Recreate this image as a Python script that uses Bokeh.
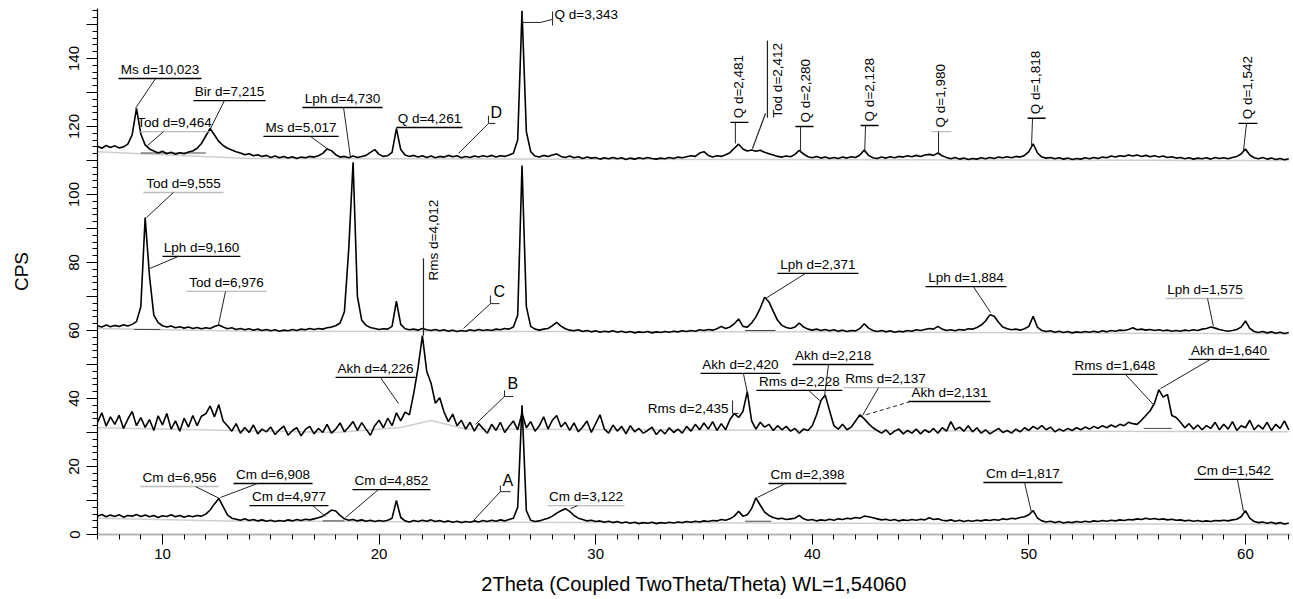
import math
from bokeh.plotting import figure
from bokeh.models import Range1d, FixedTicker
from bokeh.core.properties import value
from bokeh.embed import file_html
from bokeh.resources import INLINE

# ---------------- scan data (2Theta grid 7.0 .. 62.0, step 0.2) ----------------
SCAN_START = 7.0
SCAN_STEP = 0.2

cps_D = [
    114.2, 113.6, 114.4, 113.8, 114.3, 113.7, 114.0, 114.8, 117.5, 125.3,
    117.8, 114.6, 113.4, 112.8, 112.2, 112.7, 112.0, 112.4, 111.8, 112.3,
    112.0, 112.5, 112.8, 113.6, 115.0, 117.2, 119.4, 117.5, 115.6, 114.4,
    113.6, 113.1, 112.6, 112.2, 111.7, 112.0, 111.4, 111.7, 111.2, 111.5,
    110.9, 111.3, 110.8, 111.2, 110.7, 111.1, 110.6, 111.0, 110.8, 111.2,
    111.0, 111.4, 112.1, 113.4, 112.9, 111.7, 111.0, 111.2, 110.8, 111.3,
    110.9, 111.2, 111.5, 112.4, 113.2, 111.8, 111.2, 111.4, 112.4, 119.4,
    113.2, 111.6, 111.2, 111.5, 111.0, 111.4, 110.9, 111.3, 110.8, 111.2,
    111.0, 111.5, 111.1, 111.4, 110.8, 111.2, 110.9, 111.3, 111.0, 111.4,
    111.1, 111.5, 111.0, 111.4, 111.2, 111.6, 112.1, 116.0, 154.0, 118.5,
    112.6, 111.3, 111.0, 111.5, 111.2, 111.6, 111.9, 111.2, 110.9, 111.3,
    110.8, 111.1, 110.6, 111.0, 110.7, 110.9, 110.4, 110.8, 110.5, 110.9,
    110.5, 110.8, 110.3, 110.7, 110.4, 110.8, 110.5, 110.9, 110.6, 110.4,
    110.7, 110.5, 110.9, 110.6, 111.0, 110.8, 111.1, 111.4, 111.2, 112.2,
    112.6, 111.5, 111.0, 111.4, 111.2, 111.7, 112.3, 113.6, 114.8, 113.4,
    112.8, 113.1, 112.7, 113.0, 112.4, 112.0, 111.6, 111.2, 111.0, 111.3,
    111.1, 111.8, 113.0, 111.9, 111.1, 110.8, 111.2, 110.7, 111.0, 110.6,
    110.9, 110.6, 111.0, 110.7, 111.1, 110.9, 111.6, 113.1, 111.5, 110.8,
    110.6, 111.0, 110.7, 111.1, 110.8, 111.2, 111.0, 111.4, 111.1, 111.5,
    111.2, 111.6, 111.8, 111.5, 112.2, 111.4, 110.9, 110.5, 110.9, 110.4,
    110.7, 110.3, 110.6, 110.4, 110.8, 110.5, 110.9, 110.6, 111.0, 110.8,
    111.1, 110.8, 111.2, 111.0, 111.5, 112.6, 114.9, 112.2, 111.0, 110.7,
    110.9, 110.5, 110.8, 110.4, 110.7, 110.3, 110.6, 110.4, 110.8, 110.5,
    110.9, 110.6, 111.0, 110.8, 111.3, 111.0, 111.4, 111.2, 111.6, 111.3,
    111.6, 111.2, 111.5, 111.1, 111.4, 111.0, 111.3, 110.9, 111.1, 110.7,
    110.9, 110.5, 110.8, 110.4, 110.7, 110.5, 110.8, 110.4, 110.9, 110.6,
    110.8, 110.5, 110.9, 111.2, 111.9, 113.4, 111.6, 110.8, 110.5, 110.9,
    110.4, 110.7, 110.3, 110.6, 110.2, 110.5,
]

cps_C = [
    61.4, 61.0, 61.6, 61.1, 61.5, 61.2, 61.7, 61.3, 61.8, 62.6,
    67.0, 93.2, 76.0, 64.5, 62.3, 61.4, 61.0, 61.3, 60.8, 61.1,
    60.7, 61.0, 60.6, 60.9, 60.5, 60.8, 60.6, 61.2, 61.6, 61.0,
    60.5, 60.8, 60.3, 60.6, 60.2, 60.5, 60.1, 60.4, 60.0, 60.3,
    59.9, 60.2, 59.8, 60.1, 59.9, 60.3, 60.0, 60.4, 60.2, 60.6,
    60.3, 60.6, 60.4, 60.8, 61.0, 61.4, 62.2, 65.5, 84.0, 109.5,
    70.0, 63.0, 61.5, 60.9, 60.6, 60.3, 60.5, 60.4, 61.2, 68.6,
    61.8, 60.5, 60.2, 60.4, 60.1, 60.6, 60.2, 60.0, 60.3, 59.9,
    60.2, 59.8, 60.1, 59.7, 60.0, 59.8, 60.2, 59.9, 60.3, 60.0,
    60.2, 60.0, 60.4, 60.2, 60.6, 60.4, 61.0, 64.5, 108.5, 67.0,
    61.2, 60.4, 60.1, 60.4, 60.6, 61.4, 62.4, 61.3, 60.5, 60.1,
    59.9, 60.2, 59.7, 60.0, 59.6, 59.9, 59.5, 59.8, 59.6, 59.9,
    59.5, 59.8, 59.4, 59.7, 59.3, 59.6, 59.4, 59.7, 59.3, 59.6,
    59.4, 59.7, 59.5, 59.8, 59.6, 59.9, 59.7, 60.0, 59.8, 60.2,
    60.0, 60.3, 60.1, 60.5, 61.2, 60.6, 61.0, 62.0, 63.4, 61.2,
    61.0, 62.2, 64.0, 66.6, 69.8, 68.4, 65.6, 63.0, 61.5, 60.9,
    60.6, 61.0, 62.2, 61.0, 60.4, 60.1, 60.4, 60.0, 60.3, 59.9,
    60.2, 59.8, 60.1, 59.7, 60.0, 59.9, 60.6, 62.0, 60.7, 60.0,
    59.7, 60.0, 59.6, 59.9, 59.5, 59.8, 59.6, 60.0, 59.8, 60.2,
    60.0, 60.3, 60.6, 60.4, 61.2, 60.4, 60.0, 60.2, 59.9, 60.3,
    60.1, 60.5, 60.4, 60.9, 61.6, 62.8, 64.6, 64.2, 62.4, 61.0,
    60.5, 60.2, 60.4, 60.1, 60.5, 61.2, 64.2, 60.9, 60.0, 59.7,
    59.9, 59.5, 59.8, 59.4, 59.7, 59.3, 59.6, 59.4, 59.7, 59.5,
    59.8, 59.5, 59.9, 59.6, 60.0, 59.8, 60.1, 60.0, 60.3, 60.8,
    60.2, 60.4, 60.1, 60.3, 60.0, 60.2, 59.9, 60.1, 59.8, 60.0,
    59.8, 60.1, 59.9, 60.2, 60.0, 60.4, 60.6, 61.0, 60.7, 60.3,
    60.0, 59.8, 60.0, 60.3, 61.0, 62.8, 60.6, 59.7, 59.4, 59.7,
    59.3, 59.6, 59.2, 59.5, 59.1, 59.4,
]

cps_B = [
    33.0, 35.8, 31.9, 34.6, 32.4, 35.1, 31.2, 33.9, 36.2, 32.0,
    34.4, 31.5, 33.8, 30.6, 34.9, 32.2, 35.6, 31.0, 33.4, 30.4,
    34.2, 31.6, 35.0, 32.0, 34.8, 35.5, 37.8, 34.6, 38.2, 33.4,
    32.0, 30.4, 32.6, 29.8, 31.5, 30.0, 32.2, 29.6, 31.0, 30.2,
    31.6, 29.4, 30.8, 31.9, 29.2, 30.6, 31.4, 29.0, 30.9, 31.8,
    29.6, 31.2, 30.0, 32.4, 29.8, 31.0, 32.8, 30.2, 31.6, 33.2,
    30.6, 32.9, 31.0, 29.2, 32.0, 33.6, 31.4, 34.2, 32.0, 35.8,
    33.4, 36.0, 35.2, 41.5, 49.0, 58.5, 48.0, 44.5, 38.6, 40.2,
    36.0, 33.2, 35.4, 32.0, 33.6, 31.0, 33.0, 30.4, 32.6, 31.2,
    29.8, 32.4, 30.6, 33.0, 30.0, 31.8, 33.4, 30.8, 35.6, 31.4,
    33.2, 30.4, 32.0, 34.6, 31.0, 33.6, 35.0, 31.6, 33.0, 30.6,
    32.8, 30.2, 31.6, 33.4, 30.0, 32.6, 35.2, 31.0, 29.8, 32.2,
    30.4, 31.8, 29.6, 32.0, 30.2, 31.2, 29.8, 30.6, 31.6, 29.4,
    30.8, 29.6, 31.4, 30.0, 31.0, 29.8, 31.8, 30.4, 32.4, 30.8,
    32.8, 31.0, 33.2, 30.6, 32.6, 30.8, 33.8, 35.6, 34.4, 36.2,
    42.0, 33.4, 31.0, 33.0, 31.6, 32.4, 30.6, 32.0, 30.8, 31.8,
    30.4, 31.2, 29.8, 31.0, 30.6, 32.0, 35.2, 39.4, 41.0, 36.4,
    32.0, 31.0, 32.4, 30.8, 31.6, 33.4, 35.2, 34.0, 32.6, 31.4,
    30.6, 29.8, 30.8, 29.4, 30.4, 31.0, 29.6, 30.6, 29.8, 31.0,
    29.6, 30.8, 30.0, 31.2, 29.8, 31.4, 30.4, 33.2, 30.8, 31.6,
    30.4, 32.0, 30.2, 31.4, 29.8, 30.8, 29.6, 30.4, 31.2, 30.0,
    30.6, 29.8, 31.0, 30.2, 31.4, 30.6, 31.8, 31.0, 32.0, 30.8,
    31.6, 30.2, 31.0, 30.4, 31.2, 30.6, 31.4, 30.8, 31.6, 31.0,
    31.8, 31.2, 32.0, 31.4, 32.2, 31.6, 32.4, 32.0, 33.0, 32.6,
    32.4, 33.6, 35.0, 36.4, 38.6, 42.6, 40.4, 41.2, 35.0, 34.4,
    33.0, 31.4, 32.6, 31.0, 32.2, 30.8, 32.0, 31.2, 33.0, 30.8,
    32.4, 31.0, 33.2, 30.6, 32.0, 31.4, 33.6, 30.8, 32.2, 31.0,
    33.0, 30.6, 32.4, 31.2, 33.4, 30.8,
]

cps_A = [
    5.4, 5.9, 5.2, 5.7, 5.3, 5.8, 5.1, 5.6, 5.4, 5.9,
    5.3, 5.7, 5.2, 5.6, 5.0, 5.5, 5.3, 5.8, 5.2, 5.6,
    5.1, 5.5, 5.2, 5.6, 5.4, 6.0, 7.2, 9.0, 10.6, 8.2,
    5.8, 4.8, 4.5, 4.2, 4.6, 4.1, 4.4, 4.0, 4.3, 3.9,
    4.2, 3.8, 4.1, 3.9, 4.3, 4.0, 4.4, 4.1, 4.5, 4.3,
    4.6, 4.9, 5.4, 6.2, 7.2, 6.9, 5.6, 4.6, 4.2, 4.4,
    4.0, 4.3, 3.9, 4.2, 3.8, 4.1, 3.9, 4.2, 4.8, 10.0,
    5.0, 4.0, 3.7, 4.1, 3.8, 4.2, 3.9, 4.3, 3.8, 4.1,
    3.7, 4.0, 3.6, 3.9, 3.5, 3.8, 3.6, 4.0, 3.7, 4.1,
    3.8, 4.2, 3.9, 4.3, 4.0, 4.4, 4.8, 8.0, 38.0, 7.0,
    4.2, 3.8, 4.0, 4.4, 4.8, 5.4, 6.3, 7.0, 7.6, 6.8,
    5.6, 4.8, 4.4, 4.0, 4.2, 3.8, 4.0, 3.6, 3.9, 3.5,
    3.8, 3.4, 3.7, 3.3, 3.6, 3.2, 3.5, 3.3, 3.6, 3.2,
    3.5, 3.3, 3.6, 3.4, 3.7, 3.5, 3.8, 3.6, 3.9, 3.7,
    4.0, 3.8, 4.1, 4.0, 4.4, 4.2, 4.6, 5.4, 6.8, 5.4,
    5.8, 7.6, 10.8, 8.6, 6.6, 5.6, 5.0, 4.6, 4.8, 4.4,
    4.6, 4.8, 5.6, 4.6, 4.2, 4.4, 4.0, 4.3, 4.1, 4.5,
    4.2, 4.6, 4.4, 4.8, 4.6, 5.0, 4.8, 5.4, 5.2, 4.9,
    4.6, 4.3, 4.5, 4.1, 4.4, 4.0, 4.3, 4.1, 4.4, 4.2,
    4.5, 4.3, 4.9, 4.4, 4.6, 4.2, 4.0, 4.3, 3.9, 4.2,
    3.8, 4.1, 3.9, 4.2, 4.0, 4.3, 4.1, 4.4, 4.2, 4.6,
    4.4, 4.8, 4.6, 5.0, 5.2, 5.8, 7.0, 4.8, 4.0, 3.7,
    3.9, 3.5, 3.8, 3.4, 3.7, 3.5, 3.8, 3.6, 3.9, 3.7,
    4.0, 3.8, 4.1, 3.9, 4.2, 4.0, 4.3, 4.1, 4.4, 4.3,
    4.6, 4.4, 4.8, 4.5, 4.7, 4.4, 4.6, 4.3, 4.5, 4.2,
    4.3, 4.0, 4.2, 3.9, 4.1, 3.8, 4.0, 3.8, 4.1, 4.0,
    4.2, 4.0, 4.3, 4.5, 5.2, 7.0, 4.8, 3.8, 3.5, 3.7,
    3.3, 3.6, 3.2, 3.5, 3.1, 3.4,
]

# background curves (light grey)
bg_D_x = [7.0, 9.5, 14.0, 30.0, 62.0]
bg_D_y = [112.6, 111.8, 110.6, 110.4, 110.0]
bg_C_x = [7.0, 14.0, 40.0, 62.0]
bg_C_y = [60.6, 59.8, 59.6, 59.0]
bg_B_x = [7.0, 18.0, 21.0, 22.4, 24.0, 40.0, 62.0]
bg_B_y = [31.4, 30.0, 31.5, 33.5, 31.0, 30.6, 30.2]
bg_A_x = [7.0, 13.0, 30.0, 62.0]
bg_A_y = [4.8, 4.0, 3.5, 3.0]

# peak base markers (x0, x1, cps)
peak_bases = [(8.7, 9.9, 60.3), (36.9, 38.3, 60.0), (36.9, 38.1, 3.9),
              (17.4, 18.4, 4.0), (55.3, 56.6, 31.2), (9.0, 12.0, 112.2)]

# horizontal labels: text, underline x0, x1, underline cps, grey?, leader start x, peak 2theta, peak cps
h_labels = [
    ("Ms d=10,023", 7.97, 11.80, 134.1, 0, 9.68, 8.75, 125.3),
    ("Bir d=7,215", 11.43, 14.76, 127.6, 0, 12.86, 12.22, 119.4),
    ("Tod d=9,464", 8.98, 12.13, 118.5, 1, 10.05, 9.31, 114.4),
    ("Ms d=5,017", 14.66, 18.13, 117.1, 0, 16.83, 17.66, 113.2),
    ("Lph d=4,730", 16.46, 20.16, 125.6, 0, 18.36, 18.68, 110.9),
    ("Q d=4,261", 20.80, 23.85, 119.7, 0, 20.80, 20.80, 119.4),
    ("Tod d=9,555", 9.12, 12.82, 100.6, 1, 10.51, 9.26, 93.2),
    ("Lph d=9,160", 10.00, 13.60, 81.8, 0, 10.74, 9.40, 78.2),
    ("Tod d=6,976", 11.11, 14.80, 71.5, 1, 12.91, 12.59, 61.8),
    ("Lph d=2,371", 38.39, 42.13, 76.8, 0, 39.69, 37.84, 69.4),
    ("Lph d=1,884", 45.23, 48.97, 72.9, 0, 47.44, 48.23, 65.3),
    ("Lph d=1,575", 56.31, 59.95, 69.4, 1, 58.25, 58.52, 61.2),
    ("Akh d=4,226", 17.99, 21.68, 46.2, 0, 20.06, 20.90, 38.5),
    ("Akh d=2,420", 34.84, 38.53, 47.4, 0, 36.82, 37.01, 41.5),
    ("Akh d=2,218", 39.09, 42.83, 50.0, 0, 40.75, 40.56, 40.3),
    ("Rms d=2,228", 37.42, 41.39, 42.4, 0, 39.83, 40.34, 39.4),
    ("Rms d=2,137", 41.44, 45.32, 43.2, 1, 43.06, 42.32, 35.0),
    ("Akh d=2,131", 44.44, 48.23, 39.1, 0, 44.53, 42.37, 35.0),
    ("Rms d=1,648", 52.01, 55.94, 47.1, 0, 54.46, 55.75, 38.2),
    ("Akh d=1,640", 57.37, 61.11, 51.5, 0, 58.38, 56.08, 42.9),
    ("Cm d=6,956", 8.98, 12.59, 14.1, 1, 11.52, 12.63, 10.6),
    ("Cm d=6,908", 13.28, 16.93, 15.0, 0, 14.39, 12.68, 10.9),
    ("Cm d=4,977", 14.02, 17.66, 8.5, 0, 16.93, 17.53, 5.3),
    ("Cm d=4,852", 18.77, 22.37, 13.2, 0, 19.97, 18.45, 5.0),
    ("Cm d=3,122", 27.78, 31.33, 8.5, 1, 29.16, 28.84, 7.6),
    ("Cm d=2,398", 37.98, 41.58, 15.0, 0, 38.76, 37.47, 10.9),
    ("Cm d=1,817", 47.90, 51.55, 15.3, 0, 49.80, 50.12, 6.5),
    ("Cm d=1,542", 57.64, 61.29, 16.2, 0, 59.63, 59.91, 6.8),
]
dashed_leaders = ["Akh d=2,131"]

# vertical labels: text, centre 2theta, tick cps, tick x0, x1, grey?, leader x, peak 2theta, peak cps
v_labels = [
    ("Q d=2,481", 36.59, 121.2, 36.22, 37.05, 0, 36.45, 36.45, 115.0),
    ("Q d=2,280", 39.69, 120.0, 39.22, 40.06, 0, 39.46, 39.46, 112.4),
    ("Q d=2,128", 42.64, 120.3, 42.23, 43.06, 0, 42.46, 42.42, 112.4),
    ("Q d=1,980", 45.92, 118.5, 45.50, 46.43, 1, 45.83, 45.83, 111.8),
    ("Q d=1,818", 50.30, 122.4, 49.94, 50.77, 0, 50.17, 50.12, 113.8),
    ("Q d=1,542", 60.09, 120.9, 59.68, 60.55, 0, 60.05, 59.91, 112.9),
]

# sample letters: letter, text x, text centre cps, bracket x, bracket top, bracket bottom, bracket right, leader end x, leader end cps
sample_tags = [
    ("D", 25.14, 124.0, 25.05, 123.2, 120.9, 25.37, 23.67, 112.1),
    ("C", 25.28, 71.5, 25.14, 70.3, 67.9, 25.56, 23.90, 60.6),
    ("B", 25.93, 44.3, 25.79, 42.4, 40.6, 26.20, 24.45, 32.4),
    ("A", 25.70, 16.0, 25.60, 14.4, 12.6, 26.07, 24.36, 4.1),
]

x_major = [10, 20, 30, 40, 50, 60]
x_minor = list(range(7, 63))
y_major = list(range(0, 151, 10))
y_minor = list(range(0, 156, 2))

# ---------------- figure ----------------
two_theta = [round(SCAN_START + SCAN_STEP * i, 2) for i in range(len(cps_D))]
assert len(cps_D) == len(cps_C) == len(cps_B) == len(cps_A) == 276

FONT = "Liberation Sans"
LIFT = 1.2       # gap between vertical label start and its tick (CPS)
MID_LIFT = 2.65  # distance from an underline up to its label's centre (CPS)

p = figure(width=1293, height=599, x_range=Range1d(7.0, 62.08), y_range=Range1d(0, 154.7),
           output_backend="svg", toolbar_location=None,
           min_border_left=97, min_border_right=3, min_border_top=8, min_border_bottom=65)
p.outline_line_color = None
p.xgrid.visible = False
p.ygrid.visible = False
p.background_fill_color = "white"
p.border_fill_color = "white"

for bx, by in [(bg_D_x, bg_D_y), (bg_C_x, bg_C_y), (bg_B_x, bg_B_y), (bg_A_x, bg_A_y)]:
    p.line(bx, by, color="#cfcfcf", line_width=1.5)

p.segment(x0=[b[0] for b in peak_bases], y0=[b[2] for b in peak_bases],
          x1=[b[1] for b in peak_bases], y1=[b[2] for b in peak_bases],
          color="#444444", line_width=1)

for ys in [cps_D, cps_C, cps_B, cps_A]:
    p.line(two_theta, ys, color="black", line_width=1.6)

GREY = "#bdbdbd"
# horizontal labels
p.segment(x0=[r[1] for r in h_labels], y0=[r[3] for r in h_labels],
          x1=[r[2] for r in h_labels], y1=[r[3] for r in h_labels],
          color=[GREY if r[4] else "black" for r in h_labels], line_width=1.4)
solid = [r for r in h_labels if r[0] not in dashed_leaders]
dash = [r for r in h_labels if r[0] in dashed_leaders]
p.segment(x0=[r[5] for r in solid], y0=[r[3] for r in solid],
          x1=[r[6] for r in solid], y1=[r[7] for r in solid], color="#222222", line_width=1)
p.segment(x0=[r[5] for r in dash], y0=[r[3] for r in dash],
          x1=[r[6] for r in dash], y1=[r[7] for r in dash], color="#222222", line_width=1,
          line_dash="4 3")
p.text(x=[(r[1] + r[2]) / 2 for r in h_labels], y=[r[3] + MID_LIFT for r in h_labels],
       text=[r[0] for r in h_labels], text_align="center", text_baseline="middle",
       text_font=value(FONT), text_font_size="13.5px", text_color="black")

# vertical labels
p.segment(x0=[r[3] for r in v_labels], y0=[r[2] for r in v_labels],
          x1=[r[4] for r in v_labels], y1=[r[2] for r in v_labels],
          color=[GREY if r[5] else "black" for r in v_labels], line_width=1.4)
p.segment(x0=[r[6] for r in v_labels], y0=[r[2] for r in v_labels],
          x1=[r[7] for r in v_labels], y1=[r[8] for r in v_labels], color="#222222", line_width=1)
p.text(x=[r[1] for r in v_labels], y=[r[2] + LIFT for r in v_labels],
       text=[r[0] for r in v_labels], angle=math.pi / 2, text_align="left",
       text_baseline="middle", text_font=value(FONT), text_font_size="13.5px", text_color="black")

# Tod d=2,412 and Rms d=4,012 (vertical with side line)
p.text(x=[38.39, 22.51], y=[122.6, 74.7], text=["Tod d=2,412", "Rms d=4,012"],
       angle=math.pi / 2, text_align="left", text_baseline="middle",
       text_font=value(FONT), text_font_size="13.5px", text_color="black")
p.segment(x0=[37.93, 37.84, 22.05], y0=[122.6, 123.8, 81.2],
          x1=[37.93, 37.24, 22.05], y1=[145.3, 113.5, 58.5], color="#222222", line_width=1.2)

# Rms d=2,435
p.text(x=[36.13], y=[37.1], text=["Rms d=2,435"], text_align="right", text_baseline="middle",
       text_font=value(FONT), text_font_size="13.5px", text_color="black")
p.segment(x0=[36.32, 36.32], y0=[39.4, 35.6], x1=[36.32, 36.59], y1=[35.6, 35.6],
          color="#222222", line_width=1)

# Q d=3,343
p.segment(x0=[26.62, 26.62, 27.45, 28.01], y0=[153.2, 150.6, 150.6, 149.7],
          x1=[26.62, 27.45, 28.01, 28.01], y1=[150.3, 150.6, 151.5, 153.8],
          color="#222222", line_width=1)
p.text(x=[28.1], y=[152.9], text=["Q d=3,343"], text_align="left", text_baseline="middle",
       text_font=value(FONT), text_font_size="13.5px", text_color="black")

# sample tags
p.text(x=[t[1] for t in sample_tags], y=[t[2] for t in sample_tags], text=[t[0] for t in sample_tags],
       text_align="left", text_baseline="middle", text_font=value(FONT),
       text_font_size="16px", text_color="black")
p.segment(x0=[t[3] for t in sample_tags], y0=[t[4] for t in sample_tags],
          x1=[t[3] for t in sample_tags], y1=[t[5] for t in sample_tags], color="#222222", line_width=1)
p.segment(x0=[t[3] for t in sample_tags], y0=[t[5] for t in sample_tags],
          x1=[t[6] for t in sample_tags], y1=[t[5] for t in sample_tags], color="#222222", line_width=1)
p.segment(x0=[t[3] for t in sample_tags], y0=[t[5] for t in sample_tags],
          x1=[t[7] for t in sample_tags], y1=[t[8] for t in sample_tags], color="#222222", line_width=1)

# ---------------- axes ----------------
xa = p.xaxis[0]
xa.ticker = FixedTicker(ticks=x_major, minor_ticks=x_minor)
xa.axis_label = "2Theta (Coupled TwoTheta/Theta) WL=1,54060"
xa.axis_label_text_font = FONT
xa.axis_label_text_font_size = "20px"
xa.axis_label_text_font_style = "normal"
xa.axis_label_text_color = "black"
xa.axis_label_standoff = 11
xa.major_label_text_font = FONT
xa.major_label_text_font_size = "15px"
xa.major_label_text_color = "black"
xa.major_label_standoff = 4
xa.major_tick_out = 10
xa.major_tick_in = 0
xa.minor_tick_out = 5
xa.minor_tick_in = 0
xa.axis_line_color = "#b5b5b5"
xa.axis_line_width = 2
xa.major_tick_line_color = "black"
xa.minor_tick_line_color = "black"

ya = p.yaxis[0]
ya.ticker = FixedTicker(ticks=y_major, minor_ticks=y_minor)
ya.major_label_overrides = {v: "" for v in y_major if v % 20 != 0}
ya.major_label_orientation = "vertical"
ya.axis_label = "CPS"
ya.axis_label_text_font = FONT
ya.axis_label_text_font_size = "19px"
ya.axis_label_text_font_style = "normal"
ya.axis_label_text_color = "black"
ya.axis_label_standoff = 35
ya.major_label_text_font = FONT
ya.major_label_text_font_size = "15px"
ya.major_label_text_color = "black"
ya.major_label_standoff = 7
ya.major_tick_out = 11
ya.major_tick_in = 0
ya.minor_tick_out = 5
ya.minor_tick_in = 0
ya.axis_line_color = "black"
ya.axis_line_width = 1.2
ya.major_tick_line_color = "black"
ya.minor_tick_line_color = "black"

open("out.html", "w").write(file_html(p, INLINE))
